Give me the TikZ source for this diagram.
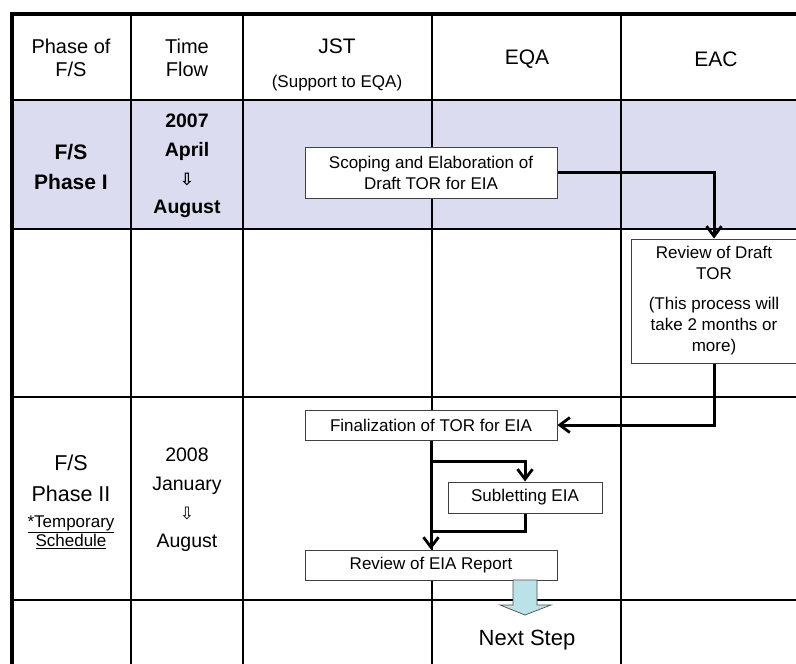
\documentclass[tikz,border=0pt]{standalone}
\usepackage{fontspec}
\setmainfont{Liberation Sans}
\newfontfamily\arrowfont{DejaVu Sans}
\usetikzlibrary{arrows.meta}

\definecolor{phaseshade}{RGB}{220,220,240}
\definecolor{nextfill}{RGB}{186,226,232}

\newcommand{\fsz}[2]{\fontsize{#1}{#2}\selectfont}
\newcommand{\downmark}{{\arrowfont\fontsize{17}{17}\selectfont ⇩}}

\tikzset{
  gridline/.style={line width=1.3pt, black},
  frameline/.style={line width=3.2pt, black},
  procbox/.style={draw=black!75, fill=white, line width=1pt, align=center,
    inner sep=0pt, font=\fsz{17}{21}},
  flow/.style={line width=3pt, black,
    -{Straight Barb[length=10pt,width=15pt,line width=2.8pt]}},
  plainflow/.style={line width=3pt, black},
  celltext/.style={align=center, inner sep=0pt},
}

\begin{document}
\begin{tikzpicture}[x=1pt, y=-1pt]
\useasboundingbox (0,0) rectangle (796,664);

% shaded band of phase I
\fill[phaseshade] (12,100) rectangle (796,229);

% table grid
\foreach \gx in {131,243,432,621} \draw[gridline] (\gx,14) -- (\gx,664);
\foreach \gy in {100,229,397,600} \draw[gridline] (12,\gy) -- (796,\gy);
\draw[frameline] (796,14) -- (12,14) -- (12,664);

% header row
\node[celltext, font=\fsz{20}{23.5}] (hphase) at (71,58) {Phase of\\F/S};
\node[celltext, font=\fsz{20}{23.5}] (htime) at (187,58) {Time\\Flow};
\node[celltext, font=\fsz{21}{21}] (hjst) at (337,46) {JST};
\node[celltext, font=\fsz{17}{17}] (hjstsub) at (337,83) {(Support to EQA)};
\node[celltext, font=\fsz{21}{21}] (heqa) at (527,59) {EQA};
\node[celltext, font=\fsz{21}{21}] (heac) at (716,59) {EAC};

% phase I
\node[celltext, font=\bfseries\fsz{21}{30}] (p1phase) at (71,167) {F/S\\Phase I};
\node[celltext, font=\bfseries\fsz{19.5}{28.7}] (p1time) at (187,166)
  {2007\\April\\{\arrowfont\bfseries\fontsize{17}{17}\selectfont ⇩}\\August};

% phase II
\node[celltext, font=\fsz{21.5}{31}] (p2phase) at (71,478) {F/S\\Phase II};
\node[celltext, font=\fsz{17}{19}] (p2note) at (71,532)
  {\underline{*Temporary}\\\underline{Schedule}};
\node[celltext, font=\fsz{19.5}{28.7}] (p2time) at (187,500)
  {2008\\January\\\downmark\\August};

% process boxes
\node[procbox, minimum width=252pt, minimum height=51pt] (scope) at (431,172.5)
  {Scoping and Elaboration of\\Draft TOR for EIA};
\node[procbox, minimum width=166pt, minimum height=124pt] (rdraft) at (714,301)
  {Review of Draft\\TOR\\[9pt](This process will\\take 2 months or\\more)};
\node[procbox, minimum width=252pt, minimum height=30pt] (fin) at (431,425)
  {Finalization of TOR for EIA};
\node[procbox, minimum width=154pt, minimum height=31pt] (sub) at (525,497.5)
  {Subletting EIA};
\node[procbox, minimum width=252pt, minimum height=30pt] (rev) at (431,565)
  {Review of EIA Report};

% connectors
\coordinate (split) at (431,461);
\coordinate (join) at (431,531);
\draw[flow] (scope.east) -| (rdraft.north);
\draw[flow] (rdraft.south) |- (fin.east);
\draw[flow] (fin.south) -- (rev.north);
\draw[flow] (split) -| (sub.north);
\draw[plainflow] (sub.south) |- (join);

% block arrow to the next step
\draw[fill=nextfill, draw=black!70, line width=0.7pt]
  (513,580) -- (537,580) -- (537,605) -- (551,605) -- (525,615)
  -- (500,605) -- (513,605) -- cycle;
\node[celltext, font=\fsz{22}{22}] (next) at (527,640) {Next Step};
\end{tikzpicture}
\end{document}
